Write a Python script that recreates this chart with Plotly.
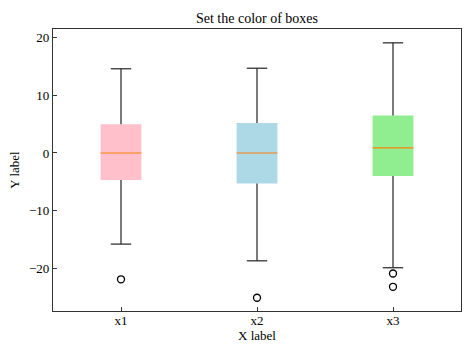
import plotly.graph_objects as go

categories = ["x1", "x2", "x3"]
positions = [1, 2, 3]
q1 = [-4.7, -5.3, -4.0]
median = [0.0, 0.0, 0.9]
q3 = [5.0, 5.2, 6.5]
lower_whisker = [-15.8, -18.7, -19.9]
upper_whisker = [14.6, 14.7, 19.1]
outliers = [[-21.9], [-25.1], [-20.9, -23.2]]
box_colors = ["pink", "lightblue", "lightgreen"]

box_w = 0.3
cap_w = box_w / 2
line_col = "#222222"
font_family = "Liberation Serif, Times New Roman, serif"

fig = go.Figure()

# boxes
fig.add_trace(go.Bar(
    x=positions, y=[b - a for a, b in zip(q1, q3)], base=q1, width=box_w,
    marker=dict(color=box_colors, line=dict(width=0)), showlegend=False,
    hoverinfo="skip"))

for i, p in enumerate(positions):
    # whiskers
    fig.add_trace(go.Scatter(
        x=[p, p, None, p, p], y=[q3[i], upper_whisker[i], None, q1[i], lower_whisker[i]],
        mode="lines", line=dict(color=line_col, width=1.2), showlegend=False))
    # caps
    fig.add_trace(go.Scatter(
        x=[p - cap_w / 2, p + cap_w / 2, None, p - cap_w / 2, p + cap_w / 2],
        y=[upper_whisker[i], upper_whisker[i], None, lower_whisker[i], lower_whisker[i]],
        mode="lines", line=dict(color=line_col, width=1.2), showlegend=False))
    # median
    fig.add_trace(go.Scatter(
        x=[p - box_w / 2, p + box_w / 2], y=[median[i], median[i]],
        mode="lines", line=dict(color="#ff7f0e", width=1.2), showlegend=False))
    # outliers
    fig.add_trace(go.Scatter(
        x=[p] * len(outliers[i]), y=outliers[i], mode="markers",
        marker=dict(symbol="circle-open", size=7, color="black", line=dict(width=1.3)),
        showlegend=False))

fig.update_layout(
    width=474, height=355,
    margin=dict(l=53, r=13, t=29, b=44),
    paper_bgcolor="white", plot_bgcolor="white",
    font=dict(family=font_family, size=12, color="black"),
    title=dict(text="Set the color of boxes", x=0.5, xref="paper", xanchor="center",
               y=1, yref="paper", yanchor="bottom", pad=dict(b=6),
               font=dict(size=14, family=font_family)),
    xaxis=dict(range=[0.5, 3.5], tickmode="array", tickvals=positions, ticktext=categories,
               ticks="inside", ticklen=4, tickcolor="#333", showgrid=False, zeroline=False,
               showline=True, linecolor="#333", linewidth=1.2, mirror=True,
               tickfont=dict(size=13), ticklabelstandoff=-3,
               title=dict(text="X label", standoff=2, font=dict(size=13))),
    yaxis=dict(range=[-27.4, 21.5], tickvals=[-20, -10, 0, 10, 20],
               ticks="inside", ticklen=4, tickcolor="#333", showgrid=False, zeroline=False,
               showline=True, linecolor="#333", linewidth=1.2, mirror=True,
               tickfont=dict(size=13),
               title=dict(text="Y label", standoff=6, font=dict(size=13))),
)

fig.write_html("out.html")
